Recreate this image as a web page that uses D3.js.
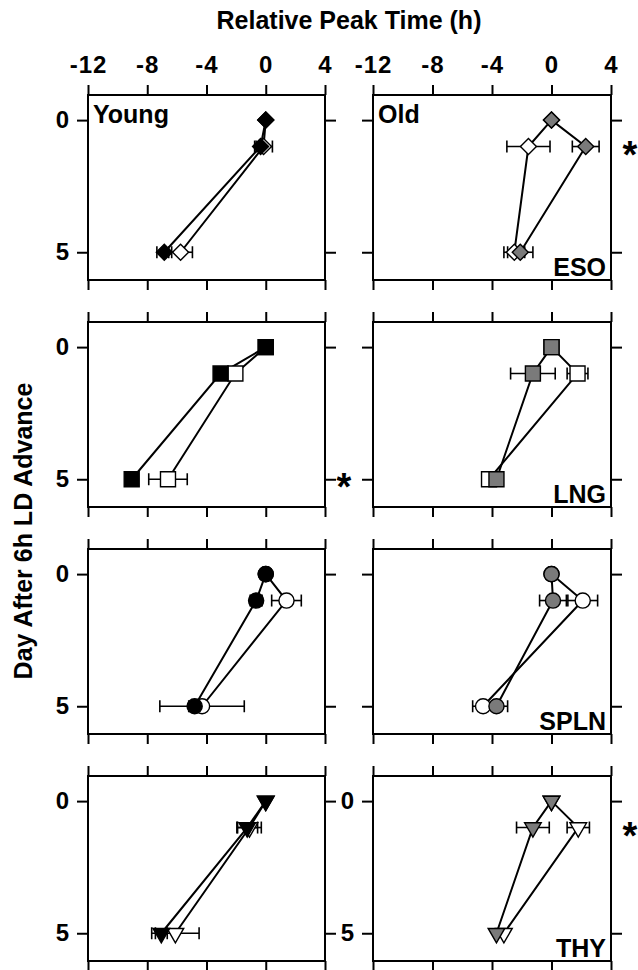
<!DOCTYPE html>
<html>
<head>
<meta charset="utf-8">
<script src="https://cdn.jsdelivr.net/npm/d3@7"></script>
<style>
  html, body { margin: 0; padding: 0; background: #fff; }
  svg { display: block; }
  text { font-family: "Liberation Sans", Arial, sans-serif; font-weight: bold; fill: #000; }
</style>
</head>
<body>
<svg id="chart" width="638" height="970"></svg>
<script>
// ---------------- DATA ----------------
const days = [0, 1, 5];
const xTicks = [-12, -8, -4, 0, 4];
const yTicks = [0, 5];
const tissues = ["ESO", "LNG", "SPLN", "THY"];
const groups = ["Young", "Old"];
const shapes = ["diamond", "square", "circle", "triangle"];

// Young, filled black series: relative peak time (h)
const youngFilled = [
  [0, -0.35, -6.85],
  [0, -3.05, -9.05],
  [0, -0.65, -4.8],
  [0, -1.25, -7.05]
];
const youngFilledErr = [
  [0, 0.3, 0.5],
  [0, 0, 0],
  [0, 0.4, 0.4],
  [0, 0.7, 0.4]
];
// Young, open series
const youngOpen = [
  [0, -0.15, -5.75],
  [0, -2.05, -6.6],
  [0, 1.4, -4.3],
  [0, -1.1, -6.1]
];
const youngOpenErr = [
  [0, 0.6, 0.8],
  [0, 0.3, 1.3],
  [0, 1.0, 2.85],
  [0, 0.8, 1.6]
];
// Old, gray series
const oldGray = [
  [0, 2.3, -2.1],
  [0, -1.25, -3.7],
  [0, 0.1, -3.7],
  [0, -1.25, -3.7]
];
const oldGrayErr = [
  [0, 0.9, 0.85],
  [0, 1.5, 0.3],
  [0, 0.9, 0.75],
  [0, 1.1, 0]
];
// Old, open series
const oldOpen = [
  [0, -1.55, -2.5],
  [0, 1.75, -4.2],
  [0, 2.1, -4.6],
  [0, 1.8, -3.2]
];
const oldOpenErr = [
  [0, 1.45, 0.7],
  [0, 0.7, 0.3],
  [0, 1.0, 0.7],
  [0, 0.75, 0]
];
// significance marks: [row, group index, day]
const asterisks = [
  [0, 1, 1],
  [1, 0, 5],
  [3, 1, 1]
];

// ---------------- LAYOUT ----------------
const svg = d3.select("#chart");
const panelX = [[88, 325], [373, 611]];
const panelTop0 = 95, panelStep = 227, panelH = 185;
const FONT = 24;

const symbolMap = {
  diamond: { type: d3.symbolSquare, size: 128, rot: 45 },
  square: { type: d3.symbolSquare, size: 225, rot: 0 },
  circle: { type: d3.symbolCircle, size: 180, rot: 0 },
  triangle: { type: d3.symbolTriangle, size: 120, rot: 180 }
};

svg.append("text")
  .attr("x", 349).attr("y", 29)
  .attr("text-anchor", "middle")
  .style("font-size", "25px")
  .text("Relative Peak Time (h)");

svg.append("text")
  .attr("transform", "translate(32,531) rotate(-90)")
  .attr("text-anchor", "middle")
  .style("font-size", "25px")
  .text("Day After 6h LD Advance");

const fmt = d => String(d);

tissues.forEach((tissue, row) => {
  const top = panelTop0 + row * panelStep;
  groups.forEach((grp, gi) => {
    const [x0, x1] = panelX[gi];
    const x = d3.scaleLinear().domain([-12, 4]).range([x0, x1]);
    const y = d3.scaleLinear().domain([-0.95, 6.05]).range([top, top + panelH]);
    const g = svg.append("g");

    // axes (ticks outward)
    const topAx = d3.axisTop(x).tickValues(xTicks).tickSize(10).tickSizeOuter(0).tickPadding(12)
      .tickFormat(row === 0 ? fmt : "");
    const botAx = d3.axisBottom(x).tickValues(xTicks).tickSize(10).tickSizeOuter(0).tickFormat("");
    const leftAx = d3.axisLeft(y).tickValues(yTicks).tickSize(11).tickSizeOuter(0).tickPadding(7)
      .tickFormat(gi === 1 && row !== 3 ? "" : fmt);
    const rightAx = d3.axisRight(y).tickValues(yTicks).tickSize(11).tickSizeOuter(0).tickFormat("");

    const axes = [
      [topAx, `translate(0,${top})`],
      [botAx, `translate(0,${top + panelH})`],
      [leftAx, `translate(${x0},0)`],
      [rightAx, `translate(${x1},0)`]
    ];
    axes.forEach(([ax, tr]) => {
      const a = g.append("g").attr("transform", tr).call(ax);
      a.select(".domain").remove();
      a.selectAll("line").attr("stroke", "#000").attr("stroke-width", 2);
      a.selectAll("text")
        .attr("fill", "#000")
        .style("font-family", "'Liberation Sans', Arial, sans-serif")
        .style("font-weight", "bold")
        .style("font-size", FONT + "px")
        .style("letter-spacing", "1px");
    });

    // frame
    g.append("rect")
      .attr("x", x0).attr("y", top)
      .attr("width", x1 - x0).attr("height", panelH)
      .attr("fill", "none").attr("stroke", "#000").attr("stroke-width", 2);

    // series
    const series = gi === 0
      ? [
          { vals: youngOpen[row], err: youngOpenErr[row], fill: "#fff" },
          { vals: youngFilled[row], err: youngFilledErr[row], fill: "#000" }
        ]
      : [
          { vals: oldOpen[row], err: oldOpenErr[row], fill: "#fff" },
          { vals: oldGray[row], err: oldGrayErr[row], fill: "#7a7a7a" }
        ];

    const line = d3.line().x(d => x(d.v)).y(d => y(d.day));
    series.forEach(s => {
      const pts = days.map((day, i) => ({ day, v: s.vals[i], e: s.err[i] }));
      g.append("path").datum(pts)
        .attr("d", line)
        .attr("fill", "none").attr("stroke", "#000").attr("stroke-width", 2);
    });
    series.forEach(s => {
      const pts = days.map((day, i) => ({ day, v: s.vals[i], e: s.err[i] })).filter(d => d.e > 0);
      const eb = g.append("g").attr("stroke", "#000").attr("stroke-width", 1.6);
      pts.forEach(d => {
        eb.append("line").attr("x1", x(d.v - d.e)).attr("x2", x(d.v + d.e))
          .attr("y1", y(d.day)).attr("y2", y(d.day));
        [d.v - d.e, d.v + d.e].forEach(c => {
          eb.append("line").attr("x1", x(c)).attr("x2", x(c))
            .attr("y1", y(d.day) - 6).attr("y2", y(d.day) + 6);
        });
      });
    });
    const sym = symbolMap[shapes[row]];
    const symPath = d3.symbol().type(sym.type).size(sym.size)();
    series.forEach(s => {
      const pts = days.map((day, i) => ({ day, v: s.vals[i] }));
      g.selectAll(null).data(pts).join("path")
        .attr("d", symPath)
        .attr("transform", d => `translate(${x(d.v)},${y(d.day)}) rotate(${sym.rot})`)
        .attr("fill", s.fill)
        .attr("stroke", "#000")
        .attr("stroke-width", 1.4);
    });

    // panel labels
    if (row === 0) {
      g.append("text").attr("x", x0 + 5).attr("y", top + 28)
        .style("font-size", "25px").text(grp);
    }
    if (gi === 1) {
      g.append("text").attr("x", x1 - 5).attr("y", top + panelH - 4)
        .attr("text-anchor", "end").style("font-size", "25px").text(tissue);
    }

    // asterisks
    asterisks.filter(a => a[0] === row && a[1] === gi).forEach(a => {
      g.append("text").attr("x", x1 + 19).attr("y", y(a[2]) + 21)
        .attr("text-anchor", "middle").style("font-size", "38px").text("*");
    });
  });
});
</script>
</body>
</html>
